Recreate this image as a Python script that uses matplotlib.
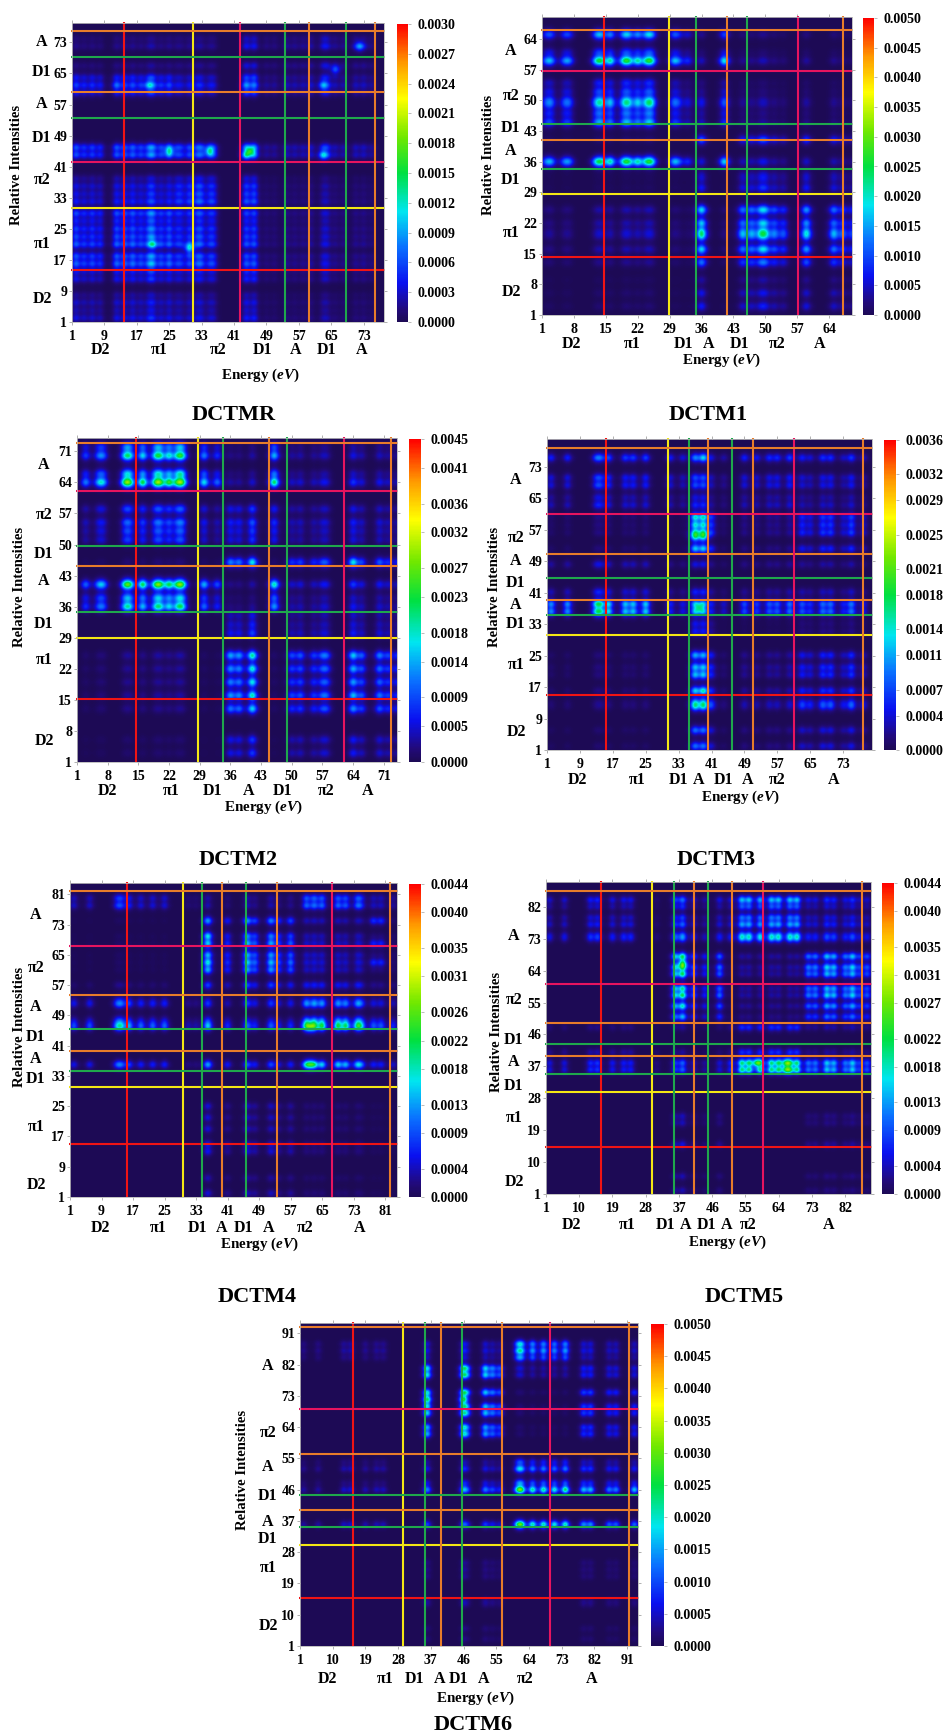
import numpy as np
import matplotlib
matplotlib.use("Agg")
import matplotlib.pyplot as plt
from matplotlib.colors import LinearSegmentedColormap, Normalize
from matplotlib.cm import ScalarMappable

plt.rcParams['font.family'] = ['Liberation Serif', 'DejaVu Serif']
plt.rcParams['font.weight'] = 'bold'
plt.rcParams['mathtext.fontset'] = 'custom'
plt.rcParams['mathtext.bfit'] = 'Liberation Serif:italic:bold'

FIG_W, FIG_H = 948, 1736

# colour of the overlay lines, by fragment
FRAG_COLORS = {'D2': '#f01414', 'π1': '#f4e614', 'π2': '#e6145f', 'D1': '#1fa84c', 'A': '#e87c2a'}

# ---- DCTMR
R_N = 78
R_TICKS = [1, 9, 17, 25, 33, 41, 49, 57, 65, 73]
R_CBAR = [0.0030, 0.0027, 0.0024, 0.0021, 0.0018, 0.0015, 0.0012, 0.0009, 0.0006, 0.0003, 0.0]
R_FRAGS = ['D2', 'π1', 'π2', 'D1', 'A', 'D1', 'A']
R_VLINES = [13.8, 30.9, 42.4, 53.5, 59.4, 68.7, 75.9]
R_HLINES = [14.3, 30.4, 42.2, 53.5, 60.3, 69.3, 75.9]
R_XCAT = [8.1, 22.5, 37, 48.1, 56.2, 63.7, 72.4]
R_YCAT = [6.9, 21.2, 37.6, 48.3, 57.2, 65.5, 73]
R_ROWS = [[2, 4, 6, 8, 12, 14], [16, 18, 21, 23, 25, 27, 29], [32, 34, 36, 38],
          [44, 46], [60, 62, 64], [67, 72, 74]]
R_ROW_W = [[1, .6, .8, .5, 1, 1], [1, .9, 1, .8, .8, .6, .9], [1, .8, .8, .5],
           [1, 1], [.7, 1, .7], [.8, .9, .6]]
R_COLS = [[2, 4, 6, 8, 12, 14, 16, 18, 20, 21, 23, 25], [27, 28, 30, 32, 33, 35, 36],
          [44, 46], [49, 51, 54, 56, 58, 60, 63, 64, 66, 68, 71, 73, 75]]
R_COL_W = [[1, .7, .8, .7, 1, .9, 1, .8, .9, 1, .8, 1], [.7, .6, 1, .9, .8, .7, .7],
           [1, 1], [.5, .5, .7, .6, .6, .8, 1, 1, .6, .6, .7, .7, .5]]
R_LEVELS = [[.0006, .0005, .0007, .0003], [.0011, .0009, .0010, .0004], [.0007, .0009, .0010, .0003],
            [.0010, .0009, .0012, .0006], [.0009, .0006, .0012, .0006], [.0003, .0003, .0007, .0005]]
R_SPOTS = [(62, 44, .0014), (44, 44, .0021), (45, 45, .0022), (44, 63, .0018), (62, 63, .0015),
           (21, 21, .0021), (62, 20, .0016), (62, 12, .0012), (45, 25, .0015), (45, 35, .0017),
           (20, 30, .0016), (72, 72, .0014), (66, 66, .0010)]

# ---- DCTM1
M1_N = 69
M1_TICKS = [1, 8, 15, 22, 29, 36, 43, 50, 57, 64]
M1_CBAR = [0.0050, 0.0045, 0.0040, 0.0035, 0.0030, 0.0025, 0.0020, 0.0015, 0.0010, 0.0005, 0.0]
M1_FRAGS = ['D2', 'π1', 'D1', 'A', 'D1', 'π2', 'A']
M1_VLINES = [14.6, 28.85, 34.8, 41.6, 45.9, 57.1, 67.1]
M1_HLINES = [14.3, 28.5, 34.4, 41, 44.6, 56.6, 66.1]
M1_XCAT = [7.4, 20.9, 32, 37.5, 44.4, 52.7, 62]
M1_YCAT = [6.3, 19.7, 31.8, 38.5, 43.6, 50.9, 61.2]
M1_ROWS = [[3, 6, 9, 13, 16, 19, 20, 22, 25], [30, 32, 33], [36], [41],
           [45, 47, 49, 50, 52, 54], [59, 61, 65]]
M1_ROW_W = [[.4, .35, .2, .7, 1, .85, .85, .9, 1], [1, .5, .5], [1], [1],
            [.9, .6, .8, .8, .5, .4], [1, .3, .65]]
M1_COLS = [[2, 3, 6, 7, 13, 14, 16, 19, 20, 22, 24, 25], [30, 31, 33, 41], [36],
           [45, 47, 49, 50, 52, 54, 59, 65, 67, 69]]
M1_COL_W = [[.5, .6, .5, .5, .8, .9, 1, .9, .9, 1, .9, 1], [.9, .5, .5, 1], [1],
            [.8, .7, .8, .8, .6, .5, 1, .8, .5, .4]]
M1_LEVELS = [[.0005, .0003, .0032, .0026], [.0001, .0001, .0012, .0012], [.0034, .0026, .0010, .0009],
             [.0002, .0001, .0020, .0015], [.0022, .0015, .0009, .0005], [.0034, .0026, .0008, .0006]]
M1_SPOTS = [(36, 16, .0037), (59, 16, .0037), (36, 41, .0032), (59, 41, .0034), (25, 36, .0033), (16, 36, .0032)]

# ---- DCTM2
M2_N = 74
M2_TICKS = [1, 8, 15, 22, 29, 36, 43, 50, 57, 64, 71]
M2_CBAR = [0.0045, 0.0041, 0.0036, 0.0032, 0.0027, 0.0023, 0.0018, 0.0014, 0.0009, 0.0005, 0.0]
M2_FRAGS = ['D2', 'π1', 'D1', 'A', 'D1', 'π2', 'A']
M2_VLINES = [14.4, 28.7, 34.2, 44.9, 49, 62, 72.6]
M2_HLINES = [15.1, 29, 34.8, 45.1, 49.6, 62, 72.9]
M2_XCAT = [7.9, 22.6, 32, 40.1, 47.8, 57.8, 67.3]
M2_YCAT = [5.8, 23.9, 32.2, 41.8, 47.8, 56.6, 67.9]
M2_ROWS = [[3, 6, 13, 16, 19, 22, 25], [30, 32, 34], [36, 38, 41], [46], [51, 53, 55, 58], [64, 66, 70, 72]]
M2_ROW_W = [[.4, .4, .8, .95, .85, .9, 1], [1, .7, .6], [.7, .5, 1], [1], [.7, .7, .9, .8], [1, .5, .7, .4]]
M2_COLS = [[3, 6, 7, 12, 13, 16, 19, 20, 22, 24, 25], [30, 33, 46], [36, 38, 41],
           [50, 52, 55, 57, 58, 64, 66, 70, 72, 74]]
M2_COL_W = [[.5, .5, .5, .8, .9, 1, .9, .9, 1, .9, 1], [.8, .5, 1], [.65, .6, 1],
            [.55, .6, .5, .5, .5, 1, .6, .75, .5, .4]]
M2_LEVELS = [[.0004, .0002, .0036, .0027], [.0000, .0000, .0015, .0011], [.0036, .0032, .0006, .0014],
             [.0002, .0002, .0031, .0023], [.0015, .0014, .0018, .0012], [.0040, .0036, .0008, .0013]]
M2_SPOTS = [(64, 16, .0040), (41, 16, .0040), (64, 46, .0038), (41, 46, .0034), (25, 41, .0034), (46, 64, .0030)]

# ---- DCTM3
M3_N = 80
M3_TICKS = [1, 9, 17, 25, 33, 41, 49, 57, 65, 73]
M3_CBAR = [0.0036, 0.0032, 0.0029, 0.0025, 0.0021, 0.0018, 0.0014, 0.0011, 0.0007, 0.0004, 0.0]
M3_FRAGS = ['D2', 'π1', 'D1', 'A', 'D1', 'A', 'π2', 'A']
M3_VLINES = [15.3, 30.5, 35.5, 40.2, 46, 51.1, 61, 77.7]
M3_HLINES = [14.9, 30.2, 35.2, 39, 44.6, 50.7, 61, 77.8]
M3_XCAT = [8.4, 22.9, 32.9, 37.9, 43.9, 49.7, 57, 70.6]
M3_YCAT = [5.5, 22.6, 33, 37.9, 43.4, 49, 54.8, 69.6]
M3_ROWS = [[2, 6, 12, 13, 16, 20, 22, 25], [31, 33], [36, 38], [41, 48], [52, 56, 58, 60], [63, 65, 68, 70, 75]]
M3_ROW_W = [[.7, .7, .9, .8, 1, .9, .9, .9], [1, .9], [1, 1], [1, .8], [.9, 1, .9, 1], [.55, .4, .7, .7, 1]]
M3_COLS = [[2, 6, 13, 14, 16, 20, 22, 25], [31, 34], [37, 39, 41],
           [44, 49, 52, 55, 57, 60], [63, 65, 68, 70, 73, 75, 78]]
M3_COL_W = [[.8, .8, .9, .9, 1, .9, .9, 1], [1, .8], [1, 1, .4], [.4, .8, .7, .8, .8, 1],
            [.8, .6, .9, .9, .5, 1, .5]]
M3_LEVELS = [[.0002, .0000, .0021, .0005, .0011], [.0000, .0000, .0008, .0001, .0003],
             [.0021, .0009, .0018, .0015, .0015], [.0007, .0004, .0009, .0005, .0006],
             [.0002, .0001, .0023, .0004, .0011], [.0012, .0009, .0016, .0012, .0011]]
M3_SPOTS = [(37, 38, .0017), (16, 39, .0026), (60, 39, .0024), (75, 39, .0022), (55, 37, .0024), (55, 39, .0024)]

# ---- DCTM4
M4_N = 84
M4_TICKS = [1, 9, 17, 25, 33, 41, 49, 57, 65, 73, 81]
M4_CBAR = [0.0044, 0.0040, 0.0035, 0.0031, 0.0026, 0.0022, 0.0018, 0.0013, 0.0009, 0.0004, 0.0]
M4_FRAGS = ['D2', 'π1', 'D1', 'A', 'D1', 'A', 'π2', 'A']
M4_VLINES = [15.5, 29.7, 34.6, 39.6, 45.7, 53.5, 67.4, 82.1]
M4_HLINES = [15, 30, 34.4, 39.5, 45.4, 54.5, 67.3, 81.8]
M4_XCAT = [8.7, 23.5, 33.3, 39.5, 45.1, 51.3, 60.8, 74.4]
M4_YCAT = [4.1, 19.4, 32.3, 37.5, 43.4, 51.3, 61.6, 75.6]
M4_ROWS = [[2, 6, 13, 15, 19, 22, 25], [36], [46, 47, 48], [52, 53], [57],
           [61, 63, 65, 68, 70, 74], [78, 80]]
M4_ROW_W = [[.8, .6, .9, .9, .8, .8, .8], [1], [1, .5, .3], [1, .4], [1], [.9, 1, .9, 1, .8, .9], [1, .9]]
M4_COLS = [[2, 6, 13, 14, 16, 19, 22, 25], [31, 33], [36, 41], [46, 48, 52, 54, 57],
           [61, 63, 65, 69, 71, 74, 75, 78, 80, 83]]
M4_COL_W = [[.7, .7, .9, 1, 1, .8, .8, .8], [.8, .7], [1, .45], [1, .6, .95, .5, .7],
            [1, 1, 1, 1, .9, .9, .5, .4, .4, .3]]
M4_LEVELS = [[.0000, .0000, .0011, .0009, .0003], [.0014, .0004, .0024, .0016, .0026],
             [.0018, .0006, .0022, .0014, .0031], [.0012, .0004, .0012, .0012, .0018],
             [.0003, .0000, .0015, .0015, .0010], [.0001, .0000, .0026, .0024, .0007],
             [.0010, .0003, .0006, .0006, .0016]]
M4_SPOTS = [(46, 62, .0034), (36, 62, .0030), (63, 36, .0028), (70, 36, .0028), (74, 46, .0020),
            (68, 78, .0011), (63, 78, .0011), (63, 80, .0011), (74, 78, .0012), (74, 80, .0012), (68, 80, .0011)]

# ---- DCTM5
M5_N = 89
M5_TICKS = [1, 10, 19, 28, 37, 46, 55, 64, 73, 82]
M5_CBAR = [0.0044, 0.0040, 0.0035, 0.0031, 0.0027, 0.0022, 0.0018, 0.0013, 0.0009, 0.0004, 0.0]
M5_FRAGS = ['D2', 'π1', 'D1', 'A', 'D1', 'A', 'π2', 'A']
M5_VLINES = [15.9, 29.7, 35.7, 41.2, 44.9, 51.3, 59.8, 86.6]
M5_HLINES = [14.2, 29.8, 34.8, 39.8, 43.2, 49.2, 60.3, 86.4]
M5_XCAT = [7.9, 22.9, 33.3, 38.8, 44.5, 49.9, 55.8, 77.4]
# the y side of this panel has no label for the second A
M5_YCAT = [4.5, 22.3, 31.5, 38.1, 44.4, None, 55.6, 73.7]
M5_ROWS = [[2, 6, 15, 21, 23], [36, 38], [41], [48], [51, 54, 57, 59, 63, 65, 68], [73, 74, 77, 79, 82, 84]]
M5_ROW_W = [[.7, .7, 1, .7, .7], [1, 1], [1], [1], [.7, .9, 1, .9, .9, 1, 1], [.8, .8, .9, .7, .6, 1]]
M5_COLS = [[2, 6, 13, 15, 19, 22, 24], [31], [36, 38, 41, 44, 48], [51, 54, 56, 59, 62, 64, 67, 69],
           [72, 74, 77, 79, 82, 84, 86, 88]]
M5_COL_W = [[.7, .7, .9, 1, .8, .8, .8], [1], [.7, 1, .4, .3, .5], [.35, 1, 1, 1, 1, 1, 1, 1],
            [.7, .7, 1, .9, .7, 1, .45, .6]]
M5_LEVELS = [[.0000, .0000, .0009, .0000, .0005], [.0012, .0003, .0016, .0032, .0024],
             [.0006, .0002, .0005, .0012, .0005], [.0004, .0001, .0005, .0012, .0006],
             [.0000, .0000, .0035, .0005, .0025], [.0011, .0002, .0018, .0024, .0012]]
M5_SPOTS = [(66, 38, .0036), (63, 38, .0035), (38, 66, .0037), (36, 66, .0030), (38, 58, .0032), (38, 62, .0032)]

# ---- DCTM6
M6_N = 94
M6_TICKS = [1, 10, 19, 28, 37, 46, 55, 64, 73, 82, 91]
M6_CBAR = [0.0050, 0.0045, 0.0040, 0.0035, 0.0030, 0.0025, 0.0020, 0.0015, 0.0010, 0.0005, 0.0]
M6_FRAGS = ['D2', 'π1', 'D1', 'A', 'D1', 'A', 'π2', 'A']
M6_VLINES = [15.7, 29.3, 35.5, 39.9, 45.5, 56.6, 69.8, 91.6]
M6_HLINES = [14.9, 30, 35.2, 40.2, 44.5, 56.4, 69.3, 92.8]
M6_XCAT = [8.6, 24.6, 32.6, 39.3, 44.6, 51.4, 62.9, 81.2]
M6_YCAT = [6.8, 23.6, 31.7, 36.8, 44.2, 52.6, 62.3, 81.5]
M6_ROWS = [[3, 6, 13, 14, 21, 23, 25], [36], [46, 48], [52, 54], [62, 64, 68, 70, 74], [79, 81], [84, 86, 88]]
M6_ROW_W = [[.7, .7, .8, .8, .8, .8, .8], [1], [1, .4], [1, .5], [.8, .8, .9, .9, 1], [1, 1], [.7, 1, .9]]
M6_COLS = [[2, 6, 13, 15, 19, 22, 24], [36, 46, 47, 52, 54, 56], [61, 62, 65, 68, 71, 74],
           [79, 81, 86, 88, 93]]
M6_COL_W = [[.7, .7, .9, 1, .8, .8, .8], [1, 1, .55, .9, .6, .5], [.9, 1, 1, 1, .9, 1],
            [.9, .9, .7, .7, .8]]
M6_LEVELS = [[.0000, .0005, .0000, .0004], [.0009, .0017, .0038, .0026], [.0009, .0024, .0038, .0030],
             [.0007, .0011, .0022, .0015], [.0000, .0033, .0002, .0017], [.0000, .0032, .0006, .0012],
             [.0006, .0010, .0024, .0010]]
M6_SPOTS = [(46, 74, .0042), (36, 74, .0036), (72, 46, .0044), (72, 36, .0040), (46, 93, .0030)]

TITLES = ['DCTMR', 'DCTM1', 'DCTM2', 'DCTM3', 'DCTM4', 'DCTM5', 'DCTM6']
TITLE_POS = [(234, 415), (708, 415), (238, 860), (716, 860), (257, 1297), (744, 1297), (473, 1725)]
# map box left, top, right, bottom in pixels, then colourbar left, right
AX_BOX = [(72, 23, 384, 322), (542, 17, 852, 315), (77, 438, 397, 762), (547, 439, 872, 750),
          (70, 883, 397, 1197), (546, 882, 871, 1194), (300, 1323, 638, 1646)]
CBAR_X = [(397, 408), (863, 874), (409, 421), (884, 896), (409, 421), (882, 894), (651, 664)]
# offsets: category row, energy label, ycat column (pixels from the map edge)
XCAT_OFF = [28, 29, 29, 30, 31, 31, 33]
ENERGY_OFF = [53, 45, 45, 47, 47, 48, 52]
ENERGY_X = [260, 721, 263, 740, 259, 727, 475]
YCAT_OFF = [30, 31, 33, 31, 34, 32, 32]
YLABEL_POS = [(17, 165), (488, 155), (20, 587), (495, 587), (20, 1027), (496, 1032), (243, 1470)]

cmap = LinearSegmentedColormap.from_list('pes', [
    (0.00, '#1d0a55'), (0.04, '#220a7a'), (0.13, '#0a10f0'), (0.25, '#0a70ff'), (0.37, '#00e6f0'),
    (0.50, '#00e040'), (0.62, '#70e800'), (0.75, '#ffff00'), (0.87, '#ff9a00'), (1.00, '#ff0000')])

# blob shape of one excitation cell, the maps are blurred in the reference
BLOB = np.array([.03, .22, 1, .22, .03])


def build_matrix(n, rows, row_w, cols, col_w, levels, spots):
    m = np.zeros((n, n))
    for i in range(len(rows)):
        for j in range(len(cols)):
            for r, a in zip(rows[i], row_w[i]):
                for c, b in zip(cols[j], col_w[j]):
                    m[r - 1, c - 1] = max(m[r - 1, c - 1], levels[i][j] * a * b)
    for r, c, v in spots:
        m[r - 1, c - 1] = max(m[r - 1, c - 1], v)
    # spread with the blob, keep the peak that was read
    out = np.apply_along_axis(lambda v: np.convolve(v, BLOB, mode='same'), 0, m)
    out = np.apply_along_axis(lambda v: np.convolve(v, BLOB, mode='same'), 1, out)
    return np.minimum(out, m.max())


def px_box(left, top, right, bottom):
    return [left / FIG_W, 1 - bottom / FIG_H, (right - left) / FIG_W, (bottom - top) / FIG_H]


def draw_panel(fig, idx, n, ticks, cbar_ticks, frags, vlines, hlines, xcat, ycat, rows, row_w, cols, col_w, levels, spots):
    box = AX_BOX[idx]
    ax = fig.add_axes(px_box(*box))
    m = build_matrix(n, rows, row_w, cols, col_w, levels, spots)
    vmax = cbar_ticks[0]
    ax.imshow(m, origin='lower', cmap=cmap, vmin=0, vmax=vmax, interpolation='bicubic', aspect='auto',
              extent=(0.5, n + 0.5, 0.5, n + 0.5))
    ax.set_xlim(1, n)
    ax.set_ylim(1, n)
    ax.set_xticks(ticks)
    ax.set_yticks(ticks)
    ax.tick_params(axis='both', labelsize=10, length=2, width=0.7, color='#b0b0b0', top=True, right=True)
    ax.tick_params(axis='x', pad=4)
    ax.tick_params(axis='y', pad=1.5)
    for s in ax.spines.values():
        s.set_color('#b8b8b8')
        s.set_linewidth(0.6)

    for frag, v, h in zip(frags, vlines, hlines):
        col = FRAG_COLORS[frag]
        ax.plot([v, v], [1, n + 0.2], color=col, lw=1.5, clip_on=False, solid_capstyle='butt')
        ax.plot([0.8, n + 0.2], [h, h], color=col, lw=1.5, clip_on=False, solid_capstyle='butt')

    xt = ax.get_xaxis_transform()
    yt = ax.get_yaxis_transform()
    for frag, x in zip(frags, xcat):
        ax.annotate(frag, (x, 0), xycoords=xt, xytext=(0, -XCAT_OFF[idx]), textcoords='offset pixels',
                    ha='center', va='center', fontsize=11.5)
    for frag, y in zip(frags, ycat):
        if y is None:
            continue
        ax.annotate(frag, (0, y), xycoords=yt, xytext=(-YCAT_OFF[idx], 0), textcoords='offset pixels',
                    ha='center', va='center', fontsize=11.5)

    fig.text(ENERGY_X[idx] / FIG_W, 1 - (box[3] + ENERGY_OFF[idx]) / FIG_H, r'Energy ($\mathbfit{eV}$)',
             ha='center', va='center', fontsize=10.8)
    yl = YLABEL_POS[idx]
    fig.text(yl[0] / FIG_W, 1 - yl[1] / FIG_H, 'Relative Intensities', rotation=90,
             ha='center', va='center', fontsize=10.6)
    tp = TITLE_POS[idx]
    fig.text(tp[0] / FIG_W, 1 - tp[1] / FIG_H, TITLES[idx], ha='center', va='center', fontsize=16)

    cx = CBAR_X[idx]
    cax = fig.add_axes(px_box(cx[0], box[1] + 1, cx[1], box[3]))
    cb = fig.colorbar(ScalarMappable(Normalize(0, vmax), cmap), cax=cax)
    cb.set_ticks(cbar_ticks)
    cb.set_ticklabels(['%.4f' % t for t in cbar_ticks])
    cb.ax.tick_params(labelsize=10, length=2, width=0.6, color='#b0b0b0', pad=5)
    cb.outline.set_visible(False)


fig = plt.figure(figsize=(FIG_W / 100, FIG_H / 100), dpi=100, facecolor='white')

draw_panel(fig, 0, R_N, R_TICKS, R_CBAR, R_FRAGS, R_VLINES, R_HLINES, R_XCAT, R_YCAT,
           R_ROWS, R_ROW_W, R_COLS, R_COL_W, R_LEVELS, R_SPOTS)
draw_panel(fig, 1, M1_N, M1_TICKS, M1_CBAR, M1_FRAGS, M1_VLINES, M1_HLINES, M1_XCAT, M1_YCAT,
           M1_ROWS, M1_ROW_W, M1_COLS, M1_COL_W, M1_LEVELS, M1_SPOTS)
draw_panel(fig, 2, M2_N, M2_TICKS, M2_CBAR, M2_FRAGS, M2_VLINES, M2_HLINES, M2_XCAT, M2_YCAT,
           M2_ROWS, M2_ROW_W, M2_COLS, M2_COL_W, M2_LEVELS, M2_SPOTS)
draw_panel(fig, 3, M3_N, M3_TICKS, M3_CBAR, M3_FRAGS, M3_VLINES, M3_HLINES, M3_XCAT, M3_YCAT,
           M3_ROWS, M3_ROW_W, M3_COLS, M3_COL_W, M3_LEVELS, M3_SPOTS)
draw_panel(fig, 4, M4_N, M4_TICKS, M4_CBAR, M4_FRAGS, M4_VLINES, M4_HLINES, M4_XCAT, M4_YCAT,
           M4_ROWS, M4_ROW_W, M4_COLS, M4_COL_W, M4_LEVELS, M4_SPOTS)
draw_panel(fig, 5, M5_N, M5_TICKS, M5_CBAR, M5_FRAGS, M5_VLINES, M5_HLINES, M5_XCAT, M5_YCAT,
           M5_ROWS, M5_ROW_W, M5_COLS, M5_COL_W, M5_LEVELS, M5_SPOTS)
draw_panel(fig, 6, M6_N, M6_TICKS, M6_CBAR, M6_FRAGS, M6_VLINES, M6_HLINES, M6_XCAT, M6_YCAT,
           M6_ROWS, M6_ROW_W, M6_COLS, M6_COL_W, M6_LEVELS, M6_SPOTS)

fig.savefig('out.png', dpi=100)
